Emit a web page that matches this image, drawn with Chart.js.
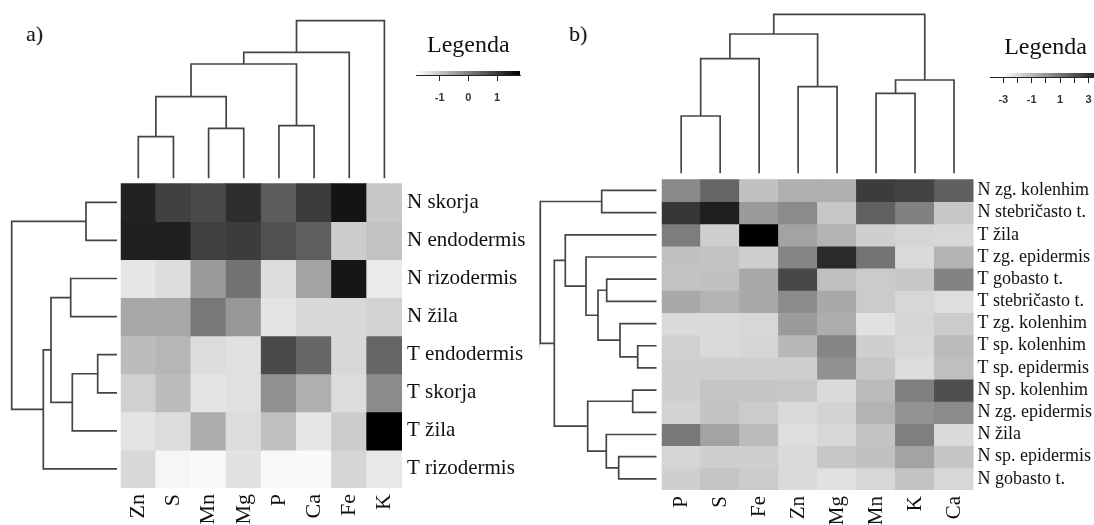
<!DOCTYPE html>
<html>
<head>
<meta charset="utf-8">
<script src="https://cdn.jsdelivr.net/npm/chart.js@4.4.1/dist/chart.umd.min.js"></script>
<style>
  html, body { margin: 0; padding: 0; background: #fff; overflow: hidden; }
  #page { position: relative; width: 1094px; height: 525px; overflow: hidden; }
  #page canvas { position: absolute; }
  .tag { position: absolute; font: 22px/24px 'Liberation Serif', 'Times New Roman', serif; color: #111; }
  .rule { position: absolute; left: 539px; top: 209px; width: 1px; height: 140px; background: #d6d6d6; }
</style>
</head>
<body>
<div id="page">
  <div class="tag" style="left:26px; top:22px">a)</div>
  <div class="tag" style="left:569px; top:22px">b)</div>
  <div class="rule"></div>
</div>
<script>
// ---- panel a: root tissues ----
const colsA = ['Zn', 'S', 'Mn', 'Mg', 'P', 'Ca', 'Fe', 'K'];
const rowsA = ['N skorja', 'N endodermis', 'N rizodermis', 'N žila',
               'T endodermis', 'T skorja', 'T žila', 'T rizodermis'];
const valuesA = [
  [ 1.32,  0.90,  0.76,  1.15,  0.50,  0.95,  1.52, -1.02],
  [ 1.35,  1.36,  0.90,  0.95,  0.67,  0.47, -1.08, -0.94],
  [-1.45, -1.31, -0.37,  0.19, -1.31, -0.52,  1.49, -1.50],
  [-0.57, -0.57,  0.11, -0.35, -1.42, -1.25, -1.25, -1.16],
  [-0.85, -0.77, -1.31, -1.36,  0.76,  0.36, -1.25,  0.36],
  [-1.14, -0.85, -1.42, -1.36, -0.23, -0.68, -1.31, -0.18],
  [-1.42, -1.31, -0.63, -1.31, -0.91, -1.45, -1.08,  1.80],
  [-1.25, -1.67, -1.73, -1.39, -1.70, -1.73, -1.22, -1.48]
];
const keyRangeA = [-1.8, 1.8];
const keyTicksA = [-1, 0, 1];

// hclust-style merges: negative = leaf (1-based), positive = earlier merge
const colMergeA = [[-1, -2], [-3, -4], [-5, -6], [1, 2], [4, 3], [5, -7], [6, -8]];
const colHeightA = [41.6, 50, 52.6, 81.6, 114.3, 126, 157.6];
const rowMergeA = [[-1, -2], [-3, -4], [-5, -6], [3, -7], [2, 4], [5, -8], [1, 6]];
const rowHeightA = [31, 46.3, 19.3, 44.7, 66, 73.7, 105.3];

// ---- panel b: leaf tissues ----
const colsB = ['P', 'S', 'Fe', 'Zn', 'Mg', 'Mn', 'K', 'Ca'];
const rowsB = ['N zg. kolenhim', 'N stebričasto t.', 'T žila', 'T zg. epidermis',
               'T gobasto t.', 'T stebričasto t.', 'T zg. kolenhim', 'T sp. kolenhim',
               'T sp. epidermis', 'N sp. kolenhim', 'N zg. epidermis', 'N žila',
               'N sp. epidermis', 'N gobasto t.'];
const valuesB = [
  [ 0.40,  1.44, -1.23, -0.71, -0.71,  2.66,  2.43,  1.61],
  [ 2.83,  3.53, -0.13,  0.34, -1.40,  1.56,  0.63, -1.40],
  [ 0.74, -1.64,  4.40, -0.36, -0.82, -1.64, -1.81, -1.87],
  [-1.23, -1.29, -1.64,  0.51,  3.18,  1.03, -1.98, -0.82],
  [-1.29, -1.23, -0.53,  2.31, -1.17, -1.52, -1.40,  0.57],
  [-0.53, -0.82, -0.53,  0.34, -0.53, -1.52, -1.87, -2.10],
  [-1.98, -1.98, -1.87, -0.13, -0.65, -2.16, -1.81, -1.52],
  [-1.69, -1.98, -1.81, -0.94,  0.51, -1.64, -1.87, -1.06],
  [-1.64, -1.64, -1.64, -1.64,  0.16, -1.40, -2.04, -1.17],
  [-1.64, -1.35, -1.35, -1.40, -1.98, -1.06,  0.69,  2.08],
  [-1.75, -1.29, -1.52, -1.93, -1.75, -0.82,  0.11,  0.34],
  [ 0.86, -0.36, -1.06, -2.10, -1.87, -1.29,  0.69, -1.98],
  [-1.81, -1.64, -1.64, -1.98, -1.40, -1.23, -0.36, -1.35],
  [-1.64, -1.35, -1.52, -1.98, -2.16, -1.87, -1.29, -1.87]
];
const keyRangeB = [-3.05, 4.4];
const keyTicksB = [-3, -2, -1, 0, 1, 2, 3];

const colMergeB = [[-1, -2], [1, -3], [-4, -5], [2, 3], [-6, -7], [5, -8], [4, 6]];
const colHeightB = [57.3, 114.6, 86.6, 139.3, 80, 93.3, 159];
const rowMergeB = [[-8, -9], [-10, -11], [-7, 1], [-13, -14], [-5, -6], [-12, 4], [-1, -2],
                   [5, 3], [2, 6], [-4, 8], [-3, 10], [11, 9], [7, 12]];
const rowHeightB = [18.8, 23.8, 36.5, 37.8, 49.8, 50.2, 54.8, 58.5, 68.8, 70.5, 91.2, 102.2, 116.2];

const SERIF = "'Liberation Serif', 'Times New Roman', serif";
const INK = '#111';
const LINK = '#444';

Chart.defaults.font.family = SERIF;
Chart.defaults.animation = false;
Chart.defaults.events = [];
Chart.defaults.plugins.legend.display = false;
Chart.defaults.plugins.tooltip.enabled = false;

const page = document.getElementById('page');

function makeCanvas(left, top, w, h) {
  const c = document.createElement('canvas');
  c.width = w; c.height = h;
  c.style.left = left + 'px'; c.style.top = top + 'px';
  c.style.width = w + 'px'; c.style.height = h + 'px';
  page.appendChild(c);
  return c;
}

function grayOf(v, lo, hi) {
  const t = Math.min(1, Math.max(0, (hi - v) / (hi - lo)));
  const g = Math.round(255 * t);
  return `rgb(${g},${g},${g})`;
}

// turn a merge table into U-shaped links in (leaf position, height)
function dendroLinks(merge, heights) {
  const nodes = [];
  const at = k => (k < 0 ? { p: -k - 1 + 0.5, h: 0 } : nodes[k - 1]);
  return merge.map(([a, b], i) => {
    const A = at(a), B = at(b), h = heights[i];
    nodes.push({ p: (A.p + B.p) / 2, h });
    return [[A.p, A.h], [A.p, h], [B.p, h], [B.p, B.h]];
  });
}

function hiddenScale(extra) {
  return Object.assign({ type: 'linear', display: false }, extra);
}

// keep axis label overhang from pushing the plot area around
function noOverhang(s) {
  s.paddingTop = 0; s.paddingBottom = 0; s.paddingLeft = 0; s.paddingRight = 0;
}

// column dendrogram above the heatmap
function topDendro(canvas, merge, heights, n, pad) {
  const links = dendroLinks(merge, heights);
  return new Chart(canvas, {
    type: 'scatter',
    data: {
      datasets: links.map(pts => ({
        data: pts.map(([p, h]) => ({ x: p, y: h })),
        showLine: true, pointRadius: 0, borderColor: LINK, borderWidth: 1.7, clip: false
      }))
    },
    options: {
      responsive: false,
      layout: { padding: pad },
      scales: {
        x: hiddenScale({ min: 0, max: n }),
        y: hiddenScale({ min: 0, max: Math.max(...heights) })
      }
    }
  });
}

// row dendrogram left of the heatmap
function sideDendro(canvas, merge, heights, n, pad, hMax) {
  const links = dendroLinks(merge, heights);
  return new Chart(canvas, {
    type: 'scatter',
    data: {
      datasets: links.map(pts => ({
        data: pts.map(([p, h]) => ({ x: h, y: p })),
        showLine: true, pointRadius: 0, borderColor: LINK, borderWidth: 1.7, clip: false
      }))
    },
    options: {
      responsive: false,
      layout: { padding: pad },
      scales: {
        x: hiddenScale({ min: 0, max: hMax, reverse: true }),
        y: hiddenScale({ min: 0, max: n, reverse: true })
      }
    }
  });
}

function heatmap(canvas, cols, rows, values, range, geo) {
  const datasets = rows.map((r, i) => ({
    label: r,
    data: cols.map(() => [i, i + 1]),
    backgroundColor: values[i].map(v => grayOf(v, range[0], range[1])),
    borderWidth: 0,
    grouped: false,
    categoryPercentage: 1,
    barPercentage: 1,
    inflateAmount: 0.5
  }));
  return new Chart(canvas, {
    type: 'bar',
    data: { labels: cols, datasets },
    options: {
      responsive: false,
      layout: { padding: { left: geo.padLeft, top: geo.padTop, right: 0, bottom: 0 } },
      scales: {
        x: {
          grid: { display: false, drawTicks: false },
          border: { display: false },
          ticks: {
            autoSkip: false, minRotation: 90, maxRotation: 90,
            padding: geo.colPad, color: INK, font: { size: geo.colFont }
          },
          afterFit: s => { s.height = geo.axisH; noOverhang(s); }
        },
        y: {
          position: 'right', reverse: true, min: 0, max: rows.length,
          grid: { display: false, drawTicks: false },
          border: { display: false },
          afterBuildTicks: s => { s.ticks = rows.map((_, i) => ({ value: i + 0.5 })); },
          ticks: {
            autoSkip: false, padding: geo.rowPad, color: INK, font: { size: geo.rowFont },
            callback: (v, i) => rows[i]
          },
          afterFit: s => { s.width = geo.axisW; noOverhang(s); }
        }
      }
    }
  });
}

// colour key: gradient strip on a value axis
function colorKey(canvas, range, ticks, scaleMin, scaleMax, pad, odd) {
  return new Chart(canvas, {
    type: 'bar',
    data: {
      labels: [''],
      datasets: [{
        data: [range],
        borderWidth: 0,
        categoryPercentage: 1,
        barPercentage: 1,
        backgroundColor: c => {
          const x = c.chart.scales.x;
          const x0 = x ? x.getPixelForValue(range[0]) : NaN;
          const x1 = x ? x.getPixelForValue(range[1]) : NaN;
          if (!Number.isFinite(x0) || !Number.isFinite(x1)) return '#888';
          const g = c.chart.ctx.createLinearGradient(x0, 0, x1, 0);
          g.addColorStop(0, '#ffffff');
          g.addColorStop(1, '#000000');
          return g;
        }
      }]
    },
    options: {
      responsive: false,
      indexAxis: 'y',
      layout: { padding: pad },
      plugins: {
        title: {
          display: true, text: 'Legenda', color: INK,
          font: { size: 24, weight: 'normal', family: SERIF },
          padding: { top: 11.5, bottom: 10.7 }
        }
      },
      scales: {
        y: { display: false },
        x: {
          type: 'linear', min: scaleMin, max: scaleMax,
          afterBuildTicks: s => { s.ticks = ticks.map(v => ({ value: v })); },
          grid: { drawOnChartArea: false, drawTicks: true, tickLength: 6, color: '#222' },
          border: { display: true, color: '#222' },
          ticks: {
            padding: 10, color: '#333',
            font: { size: 11, weight: 'bold', family: "'Liberation Sans', Arial, sans-serif" },
            callback: v => (odd && Math.abs(v) % 2 !== 1 ? '' : String(v))
          },
          afterFit: s => { s.height = 35; noOverhang(s); }
        }
      }
    }
  });
}

// panel a
heatmap(makeCanvas(110, 175, 430, 350), colsA, rowsA, valuesA, keyRangeA,
  { padLeft: 10.7, padTop: 8.3, axisW: 138, axisH: 37, rowPad: 5, colPad: 6, rowFont: 21, colFont: 22 });
topDendro(makeCanvas(110, 5, 300, 180), colMergeA, colHeightA, colsA.length,
  { left: 10.7, right: 8, top: 15.7, bottom: 6.7 });
sideDendro(makeCanvas(0, 175, 125, 320), rowMergeA, rowHeightA, rowsA.length,
  { left: 0, right: 8, top: 8.3, bottom: 7 }, 117);
colorKey(makeCanvas(408, 20, 120, 90), keyRangeA, keyTicksA, keyRangeA[0], keyRangeA[1],
  { left: 8.7, right: 8, top: 0, bottom: 0 }, false);

// panel b
heatmap(makeCanvas(650, 170, 444, 355), colsB, rowsB, valuesB, keyRangeB,
  { padLeft: 11.7, padTop: 9.3, axisW: 120.5, axisH: 35, rowPad: 4, colPad: 6, rowFont: 18, colFont: 21 });
topDendro(makeCanvas(650, 0, 335, 180), colMergeB, colHeightB, colsB.length,
  { left: 11.7, right: 11.5, top: 14.3, bottom: 6.7 });
sideDendro(makeCanvas(536, 170, 130, 330), rowMergeB, rowHeightB, rowsB.length,
  { left: 0, right: 9.5, top: 9.3, bottom: 10 }, 120.5);
colorKey(makeCanvas(982, 22, 127, 90), keyRangeB, keyTicksB, -3.937, 3.88,
  { left: 8, right: 8, top: 0, bottom: 0 }, true);
</script>
</body>
</html>
